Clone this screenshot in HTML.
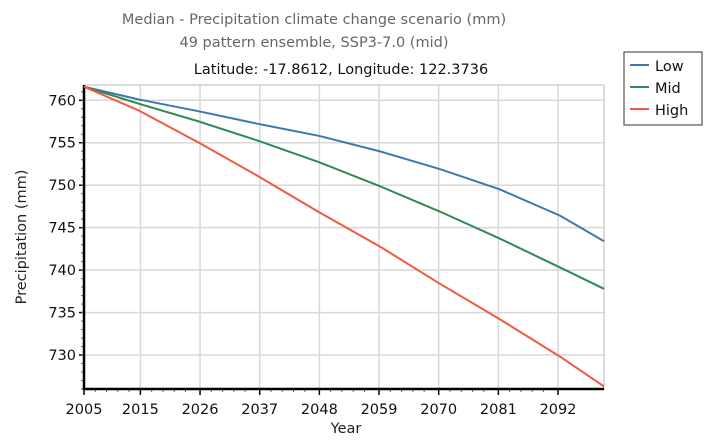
<!DOCTYPE html>
<html><head><meta charset="utf-8"><style>
body{margin:0;background:#fff;font-family:"DejaVu Sans","Liberation Sans",sans-serif;}
svg text{font-family:"DejaVu Sans","Liberation Sans",sans-serif;}
</style></head><body>
<svg id="chart" width="707" height="438" xmlns="http://www.w3.org/2000/svg">
<text x="314" y="24" text-anchor="middle" font-size="14.5" fill="#666">Median - Precipitation climate change scenario (mm)</text>
<text x="314" y="47" text-anchor="middle" font-size="14.5" fill="#666">49 pattern ensemble, SSP3-7.0 (mid)</text>
<text x="341" y="74" text-anchor="middle" font-size="14.5" fill="#111">Latitude: -17.8612, Longitude: 122.3736</text>
<text transform="translate(26,237) rotate(-90)" text-anchor="middle" font-size="14.5" fill="#222">Precipitation (mm)</text>
<text x="346" y="433" text-anchor="middle" font-size="14.5" fill="#222">Year</text>
<g id="grid"></g><g id="axes"></g><g id="series"></g>
<g>
<rect x="624" y="52" width="78" height="73" fill="#fff" stroke="#555" stroke-width="1.2"/>
<line x1="630" y1="65" x2="649" y2="65" stroke="#3d78b0" stroke-width="2"/>
<text x="655" y="71" font-size="14.5" fill="#111">Low</text>
<line x1="630" y1="87" x2="649" y2="87" stroke="#2e8a56" stroke-width="2"/>
<text x="655" y="93" font-size="14.5" fill="#111">Mid</text>
<line x1="630" y1="109" x2="649" y2="109" stroke="#f15a3c" stroke-width="2"/>
<text x="655" y="115" font-size="14.5" fill="#111">High</text>
</g>
</svg>
<script>
const years=[2005,2015,2026,2037,2048,2059,2070,2081,2092,2100];
const lowVals=[761.6,760.1,758.7,757.2,755.8,754.0,751.9,749.5,746.4,743.4];
const midVals=[761.6,759.6,757.5,755.2,752.7,749.9,746.9,743.7,740.3,737.8];
const highVals=[761.6,758.8,755.0,751.0,746.8,742.8,738.4,734.2,729.8,726.3];
const xTicks=[2005,2015.3,2026.2,2037.1,2048,2058.9,2069.8,2080.7,2091.6];
const xTickLabels=["2005","2015","2026","2037","2048","2059","2070","2081","2092"];
const yTicks=[730,735,740,745,750,755,760];
const L=84,R=604,T=85,B=389,X0=2005,X1=2100,Y0=726,Y1=761.8;
const xs=v=>L+(v-X0)/(X1-X0)*(R-L);
const ys=v=>B-(v-Y0)/(Y1-Y0)*(B-T);
const NS="http://www.w3.org/2000/svg";
function mk(tag,attrs,parent){const e=document.createElementNS(NS,tag);for(const k in attrs)e.setAttribute(k,attrs[k]);parent.appendChild(e);return e;}
const grid=document.getElementById('grid'),axes=document.getElementById('axes'),series=document.getElementById('series');
xTicks.forEach((t,i)=>{const x=xs(t);
 if(i>0){const g=mk('line',{x1:x,x2:x,y1:T,y2:B,stroke:'#d8d8d8','stroke-width':1.5},grid);
 
 }
 mk('line',{x1:x,x2:x,y1:B,y2:B+6,stroke:'#000','stroke-width':1.5},axes);
 const tx=mk('text',{x:x,y:B+25,'text-anchor':'middle','font-size':14.5,fill:'#111'},axes);tx.textContent=xTickLabels[i];
 
 
 if(i<xTicks.length-1){for(let k=1;k<5;k++){const mx=x+(xs(xTicks[1])-xs(xTicks[0]))*k/5;mk('line',{x1:mx,x2:mx,y1:B,y2:B+3,stroke:'#666'},axes);}}
});
yTicks.forEach(t=>{const y=ys(t);
 const g=mk('line',{x1:L,x2:R,y1:y,y2:y,stroke:'#d8d8d8','stroke-width':1.5},grid);
 
 
 mk('line',{x1:L-5,x2:L,y1:y,y2:y,stroke:'#000','stroke-width':1.5},axes);
 const tx=mk('text',{x:L-8,y:y+5,'text-anchor':'end','font-size':14.5,fill:'#111'},axes);tx.textContent=t;
 
 
});
for(let v=726;v<=761;v++){mk('line',{x1:L-3,x2:L,y1:ys(v),y2:ys(v),stroke:'#666'},axes);}
mk('rect',{x:L,y:T,width:R-L,height:B-T,fill:'none',stroke:'#bbb'},axes);
mk('line',{x1:L,x2:L,y1:T,y2:B+1,stroke:'#000','stroke-width':2.5},axes);
mk('line',{x1:L-1,x2:R,y1:B,y2:B,stroke:'#000','stroke-width':2.5},axes);
[[lowVals,'#3d78b0','low-series-line'],[midVals,'#2e8a56','mid-series-line'],[highVals,'#f15a3c','high-series-line']].forEach(([vals,c,n])=>{
 const p=mk('polyline',{points:vals.map((v,i)=>xs(years[i])+','+ys(v)).join(' '),fill:'none',stroke:c,'stroke-width':2},series);
 
 
});
</script>
</body></html>
